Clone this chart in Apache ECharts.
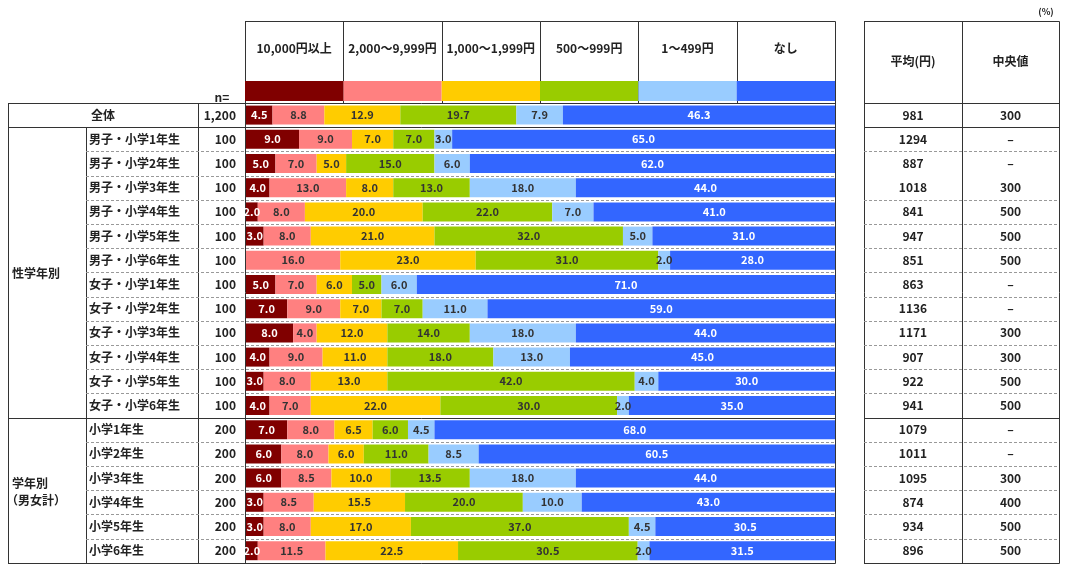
<!DOCTYPE html>
<html>
<head>
<meta charset="utf-8">
<script src="https://cdn.jsdelivr.net/npm/echarts@6/dist/echarts.min.js"></script>
<style>
  html, body { margin: 0; padding: 0; background: #fff; }
  #main { width: 1067px; height: 570px; }
</style>
</head>
<body>
<div id="main"></div>
<script>
var myChart = echarts.init(document.getElementById('main'));

// 区分（凡例）
var categories = ['10,000円以上', '2,000～9,999円', '1,000～1,999円', '500～999円', '1～499円', 'なし'];
var colors = ['#800000', '#ff8080', '#ffcc00', '#99cc00', '#99ccff', '#3366ff'];

// 行ラベル
var rowLabels = ['全体',
    '男子・小学1年生', '男子・小学2年生', '男子・小学3年生', '男子・小学4年生', '男子・小学5年生', '男子・小学6年生',
    '女子・小学1年生', '女子・小学2年生', '女子・小学3年生', '女子・小学4年生', '女子・小学5年生', '女子・小学6年生',
    '小学1年生', '小学2年生', '小学3年生', '小学4年生', '小学5年生', '小学6年生'];
var nValues = ['1,200', '100', '100', '100', '100', '100', '100', '100', '100', '100', '100', '100', '100',
    '200', '200', '200', '200', '200', '200'];

// 各区分の割合(%)
var over10000 = [4.5, 9, 5, 4, 2, 3, 0, 5, 7, 8, 4, 3, 4, 7, 6, 6, 3, 3, 2];
var from2000 = [8.8, 9, 7, 13, 8, 8, 16, 7, 9, 4, 9, 8, 7, 8, 8, 8.5, 8.5, 8, 11.5];
var from1000 = [12.9, 7, 5, 8, 20, 21, 23, 6, 7, 12, 11, 13, 22, 6.5, 6, 10, 15.5, 17, 22.5];
var from500 = [19.7, 7, 15, 13, 22, 32, 31, 5, 7, 14, 18, 42, 30, 6, 11, 13.5, 20, 37, 30.5];
var from1 = [7.9, 3, 6, 18, 7, 5, 2, 6, 11, 18, 13, 4, 2, 4.5, 8.5, 18, 10, 4.5, 2];
var none = [46.3, 65, 62, 44, 41, 31, 28, 71, 59, 44, 45, 30, 35, 68, 60.5, 44, 43, 30.5, 31.5];
var seriesValues = [over10000, from2000, from1000, from500, from1, none];

// 平均・中央値
var avgValues = ['981', '1294', '887', '1018', '841', '947', '851', '863', '1136', '1171', '907', '922', '941',
    '1079', '1011', '1095', '874', '934', '896'];
var medianValues = ['300', '–', '–', '300', '500', '500', '500', '–', '–', '300', '300', '500', '500',
    '–', '–', '300', '400', '500', '500'];

// layout
var L = {left: 8, sec: 86, nCol: 198, barL: 245, barR: 835, rL: 864, rM: 962, rR: 1059,
    head: 21, top: 103, rowH: 24.2, rows: 19};
L.bottom = L.top + L.rowH * L.rows;
var colW = (L.barR - L.barL) / categories.length;
var FONT = '"Noto Sans CJK JP", "Noto Sans", sans-serif';

function rowLine(k) {
    return Math.round(L.top + L.rowH * k) + 0.5;
}
function rowMid(k) {
    return L.top + L.rowH * (k + 0.5);
}

var graphics = [];
function line(x1, y1, x2, y2, dashed) {
    graphics.push({
        type: 'line', silent: true,
        shape: {x1: x1, y1: y1, x2: x2, y2: y2},
        style: {stroke: dashed ? '#999' : '#333', lineWidth: 1, lineDash: dashed ? [3, 2] : null}
    });
}
function text(str, x, y, align, size) {
    graphics.push({
        type: 'text', silent: true,
        style: {
            text: str, x: x, y: y, fill: '#222',
            font: 'bold ' + (size || 12) + 'px ' + FONT,
            textAlign: align || 'center', align: align || 'center',
            textVerticalAlign: 'middle', verticalAlign: 'middle'
        }
    });
}

// 罫線
var bottom = rowLine(L.rows);
var headY = L.head + 0.5;
line(L.barL, headY, L.barR + 0.5, headY);
line(L.rL, headY, L.rR + 0.5, headY);
line(L.barL + 0.5, headY, L.barL + 0.5, bottom);
line(L.barR + 0.5, headY, L.barR + 0.5, bottom);
for (var c = 1; c < categories.length; c++) {
    var cx = Math.round(L.barL + colW * c) + 0.5;
    line(cx, headY, cx, rowLine(0));
}
line(L.rL + 0.5, headY, L.rL + 0.5, bottom);
line(L.rM + 0.5, headY, L.rM + 0.5, bottom);
line(L.rR + 0.5, headY, L.rR + 0.5, bottom);
line(L.left + 0.5, rowLine(0), L.left + 0.5, bottom);
line(L.sec + 0.5, rowLine(1), L.sec + 0.5, bottom);
line(L.nCol + 0.5, rowLine(0), L.nCol + 0.5, bottom);
for (var k = 0; k <= L.rows; k++) {
    var y = rowLine(k);
    var solid = (k === 0 || k === 1 || k === 13 || k === L.rows);
    if (solid) {
        line(L.left, y, L.barR + 0.5, y);
        line(L.rL, y, L.rR + 0.5, y);
    } else {
        line(L.sec, y, L.barR, y, true);
        if (k !== 3) line(L.rL, y, L.rR, y, true);
    }
}

// 見出し
for (var c2 = 0; c2 < categories.length; c2++) {
    text(categories[c2], L.barL + colW * (c2 + 0.5), 48);
}
text('平均(円)', (L.rL + L.rM) / 2, 61);
text('中央値', (L.rM + L.rR) / 2, 61);
text('(%)', 1046, 12, 'center', 9);
text('n=', 222, 97);
text('性学年別', 12, (rowLine(1) + rowLine(13)) / 2, 'left');
text('学年別', 12, (rowLine(13) + rowLine(19)) / 2 - 8, 'left');
text('（男女計）', 6, (rowLine(13) + rowLine(19)) / 2 + 9, 'left');

// 行ラベル・n・平均・中央値
for (var r = 0; r < rowLabels.length; r++) {
    var my = rowMid(r);
    if (r === 0) {
        text(rowLabels[r], (L.left + L.nCol) / 2, my);
    } else {
        text(rowLabels[r], L.sec + 3, my, 'left');
    }
    text(nValues[r], L.barL - 9, my, 'right');
    text(avgValues[r], (L.rL + L.rM) / 2, my);
    text(medianValues[r], (L.rM + L.rR) / 2, my);
}

var series = [];
for (var i = 0; i < categories.length; i++) {
    var dark = (i === 0 || i === 5);
    // データの帯
    series.push({
        name: categories[i],
        type: 'bar',
        stack: 'total',
        xAxisIndex: 0,
        yAxisIndex: 0,
        barWidth: 19,
        data: seriesValues[i],
        itemStyle: {color: colors[i]},
        label: {
            show: true,
            position: 'inside',
            color: dark ? '#fff' : '#333',
            fontFamily: FONT,
            fontWeight: 'bold',
            fontSize: 11,
            formatter: function (p) {
                return p.value > 0 ? p.value.toFixed(1) : '';
            }
        }
    });
    // 見出しの色見本
    series.push({
        name: categories[i] + '_legend',
        type: 'bar',
        stack: 'legend',
        xAxisIndex: 1,
        yAxisIndex: 1,
        barWidth: 20,
        data: [1],
        itemStyle: {color: colors[i]}
    });
}

option = {
    animation: false,
    tooltip: {show: false},
    grid: [{
        left: L.barL + 1,
        top: L.top,
        width: L.barR - L.barL - 1,
        height: L.bottom - L.top
    }, {
        left: L.barL,
        top: 81,
        width: L.barR - L.barL,
        height: 20
    }],
    xAxis: [{
        type: 'value', gridIndex: 0, min: 0, max: 100,
        show: false
    }, {
        type: 'value', gridIndex: 1, min: 0, max: categories.length,
        show: false
    }],
    yAxis: [{
        type: 'category', gridIndex: 0, inverse: true,
        data: rowLabels,
        show: false
    }, {
        type: 'category', gridIndex: 1,
        data: [''],
        show: false
    }],
    graphic: graphics,
    series: series
};

myChart.setOption(option);
window.onresize = myChart.resize;
</script>
</body>
</html>
